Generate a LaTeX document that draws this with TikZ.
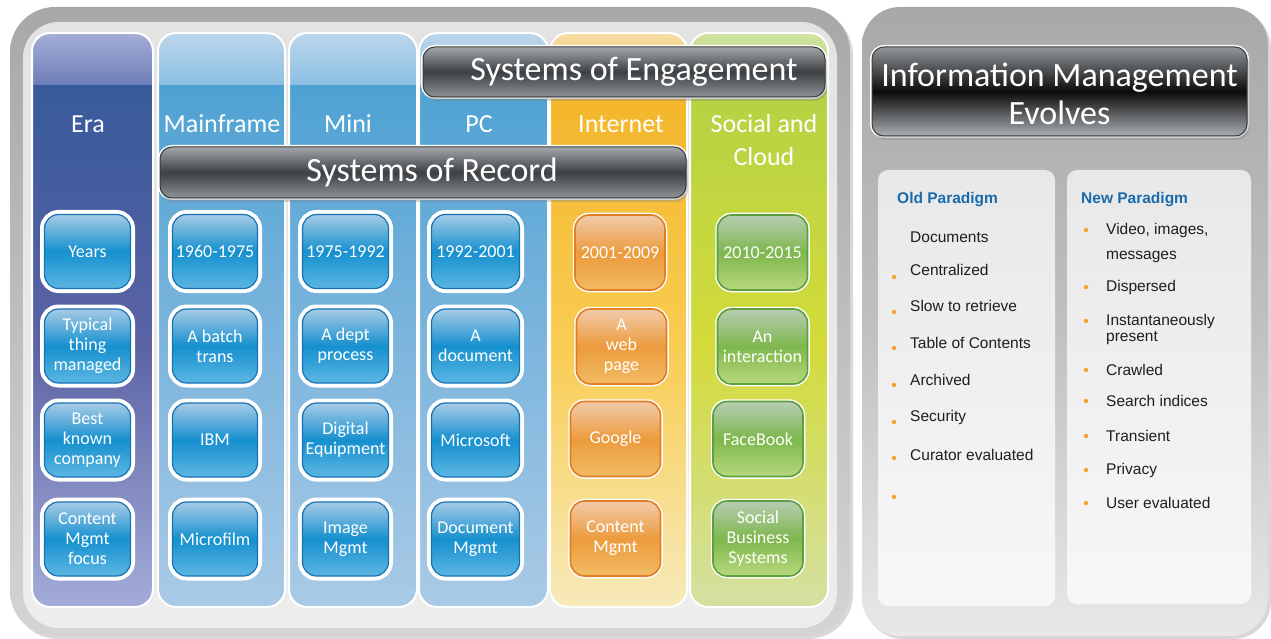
\documentclass[tikz,border=0pt]{standalone}
\usepackage{fontspec}
\setmainfont{Carlito}
\newfontfamily\arialfont{Liberation Sans}
\usetikzlibrary{shadows}

% column colours
\definecolor{eraTop}{HTML}{375A9B}
\definecolor{eraMid}{HTML}{5C63A5}
\definecolor{eraBot}{HTML}{A3ACD8}
\definecolor{eraGlossA}{HTML}{A4AED6}
\definecolor{eraGlossB}{HTML}{6D7DB8}
\definecolor{bluTop}{HTML}{4EA2D3}
\definecolor{bluMid}{HTML}{7DB5DD}
\definecolor{bluBot}{HTML}{AACAE6}
\definecolor{bluGlossA}{HTML}{BDD6EB}
\definecolor{bluGlossB}{HTML}{8BBFE3}
\definecolor{netTop}{HTML}{F3B52A}
\definecolor{netMid}{HTML}{F9CC52}
\definecolor{netBot}{HTML}{F7EABA}
\definecolor{netGlossA}{HTML}{F6DDA4}
\definecolor{netGlossB}{HTML}{F3C356}
\definecolor{socTop}{HTML}{B4D244}
\definecolor{socMid}{HTML}{D3DB3A}
\definecolor{socBot}{HTML}{D4E0A2}
\definecolor{socGlossA}{HTML}{CFE3A4}
\definecolor{socGlossB}{HTML}{B9D568}
% cell colours
\definecolor{cellBluTop}{HTML}{A6CBE6}
\definecolor{cellBluMid}{HTML}{1590CF}
\definecolor{cellBluBot}{HTML}{5CB6E2}
\definecolor{cellBluLine}{HTML}{1672B3}
\definecolor{cellNetTop}{HTML}{F1CBAA}
\definecolor{cellNetMid}{HTML}{EC9B3D}
\definecolor{cellNetBot}{HTML}{F1BB62}
\definecolor{cellNetLine}{HTML}{E27D24}
\definecolor{cellSocTop}{HTML}{B7CDB3}
\definecolor{cellSocMid}{HTML}{7DB74C}
\definecolor{cellSocBot}{HTML}{B8D87D}
\definecolor{cellSocLine}{HTML}{5E9F3D}
% banners and panels
\definecolor{bannerTop}{HTML}{A3A7AB}
\definecolor{bannerMid}{HTML}{3C4043}
\definecolor{bannerBot}{HTML}{8E9498}
\definecolor{bannerLine}{HTML}{3A3A3A}
\definecolor{infoTop}{HTML}{92969A}
\definecolor{infoMid}{HTML}{0B0B0B}
\definecolor{infoBot}{HTML}{ABAFB3}
\definecolor{rimTop}{HTML}{A8A8A8}
\definecolor{rimBot}{HTML}{D4D4D4}
\definecolor{paradigmBlue}{HTML}{1B6AA9}
\definecolor{itemText}{HTML}{1E1E1E}
\definecolor{dotOrange}{HTML}{F6A134}

\tikzset{
  colframe/.style={white, line width=2pt, rounded corners=18pt},
  head/.style={text=white, align=center, font=\fontsize{26}{33}\selectfont},
  cell/.style={rounded corners=14pt, minimum width=86pt, minimum height=74pt,
    inner sep=1pt, text=white, align=center, font=\fontsize{18}{20}\selectfont},
  bluecell/.style={cell, top color=cellBluTop, bottom color=cellBluBot,
    middle color=cellBluMid, draw=cellBluLine, line width=1.2pt,
    preaction={draw=white, line width=9pt}},
  netcell/.style={cell, minimum width=90pt, minimum height=75pt,
    top color=cellNetTop, bottom color=cellNetBot, middle color=cellNetMid,
    draw=cellNetLine, line width=1.6pt, preaction={draw=white, line width=4.5pt}},
  soccell/.style={cell, minimum width=90pt, minimum height=75pt,
    top color=cellSocTop, bottom color=cellSocBot, middle color=cellSocMid,
    draw=cellSocLine, line width=1.6pt, preaction={draw=white, line width=4.5pt}},
  banner/.style={rounded corners=12pt, draw=bannerLine, line width=1pt,
    top color=bannerTop, bottom color=bannerBot, middle color=bannerMid,
    preaction={draw=white, line width=4pt},
    drop shadow={shadow xshift=2pt, shadow yshift=-4pt, opacity=0.35}},
  bannertext/.style={text=white, align=center, font=\fontsize{34}{38}\selectfont},
  card/.style={rounded corners=10pt, top color=black!9, bottom color=black!3},
  ptitle/.style={anchor=west, inner sep=0pt, text=paradigmBlue,
    font=\arialfont\bfseries\fontsize{15.5}{18}\selectfont},
  item/.style={anchor=west, inner sep=0pt, text=itemText, align=left,
    font=\arialfont\fontsize{15.5}{18}\selectfont},
  dot/.style={fill=dotOrange}
}

\begin{document}
\begin{tikzpicture}[x=1pt,y=1pt]
  \useasboundingbox[fill=white] (0,0) rectangle (1271,-639);

  % left panel
  \path[drop shadow={shadow xshift=3pt, shadow yshift=-3pt, opacity=0.3},
    top color=rimTop, bottom color=rimBot, rounded corners=45pt] (10,-7) rectangle (850,-636);
  \shade[top color=black!11, bottom color=black!7, rounded corners=36pt] (23,-22) rectangle (837,-628);

  % columns
  \foreach \xa/\xb/\tone in {32/153/era,158/285/blu,289/417/blu,419/548/blu,550/687/net,690/828/soc}{
    \begin{scope}
      \clip[rounded corners=18pt] (\xa,-33) rectangle (\xb,-607);
      \shade[top color=\tone Top, bottom color=\tone Bot, middle color=\tone Mid] (\xa,-85) rectangle (\xb,-607);
      \shade[top color=\tone GlossA, bottom color=\tone GlossB] (\xa,-33) rectangle (\xb,-85);
    \end{scope}
    \draw[colframe] (\xa,-33) rectangle (\xb,-607);
  }

  % column heads
  \node[head] (hera) at (88,-124) {Era};
  \node[head] (hmain) at (222,-124) {Mainframe};
  \node[head] (hmini) at (348,-124) {Mini};
  \node[head] (hpc) at (479,-124) {PC};
  \node[head] (hnet) at (621,-124) {Internet};
  \node[head] (hsoc) at (764,-140.5) {Social and\\Cloud};

  % banners
  \node[banner, minimum width=402pt, minimum height=50pt] (eng) at (624,-72) {};
  \node[bannertext] (engtext) at (634,-72) {Systems of Engagement};
  \node[banner, minimum width=526pt, minimum height=51pt] (rec) at (423,-172.5) {};
  \node[bannertext] (rectext) at (432,-172.5) {Systems of Record};

  % cells
  \node[bluecell] (era1) at (87.5,-251.5) {Years};
  \node[bluecell] (era2) at (87.5,-346) {Typical\\thing\\managed};
  \node[bluecell] (era3) at (87.5,-440) {Best\\known\\company};
  \node[bluecell] (era4) at (87.5,-539) {Content\\Mgmt\\focus};

  \node[bluecell, minimum width=85pt] (main1) at (215,-251.5) {1960-1975};
  \node[bluecell, minimum width=85pt] (main2) at (215,-346) {A batch\\trans};
  \node[bluecell, minimum width=85pt] (main3) at (215,-440) {IBM};
  \node[bluecell, minimum width=85pt] (main4) at (215,-539) {Microfilm};

  \node[bluecell] (mini1) at (345.5,-251.5) {1975-1992};
  \node[bluecell] (mini2) at (345.5,-346) {A dept\\process};
  \node[bluecell] (mini3) at (345.5,-440) {Digital\\Equipment};
  \node[bluecell] (mini4) at (345.5,-539) {Image\\Mgmt};

  \node[bluecell, minimum width=88pt] (pc1) at (475.5,-251.5) {1992-2001};
  \node[bluecell, minimum width=88pt] (pc2) at (475.5,-346) {A\\document};
  \node[bluecell, minimum width=88pt] (pc3) at (475.5,-440) {Microsoft};
  \node[bluecell, minimum width=88pt] (pc4) at (475.5,-539) {Document\\Mgmt};

  \node[netcell] (net1) at (620,-252.5) {2001-2009};
  \node[netcell] (net2) at (621.5,-346.5) {A\\web\\page};
  \node[netcell] (net3) at (615.5,-439) {Google};
  \node[netcell] (net4) at (615.5,-538.5) {Content\\Mgmt};

  \node[soccell] (soc1) at (762.5,-252.5) {2010-2015};
  \node[soccell] (soc2) at (762.5,-346.5) {An\\interaction};
  \node[soccell] (soc3) at (758,-439) {FaceBook};
  \node[soccell] (soc4) at (758,-538.5) {Social\\Business\\Systems};

  % right panel
  \path[drop shadow={shadow xshift=3pt, shadow yshift=-3pt, opacity=0.3},
    top color=black!34, bottom color=black!9, middle color=black!25,
    rounded corners=38pt] (862,-7) rectangle (1268,-636);
  \node[banner, top color=infoTop, bottom color=infoBot, middle color=infoMid,
    minimum width=375pt, minimum height=89pt] (info) at (1059.5,-91.5) {};
  \node[bannertext] (infotext) at (1059.5,-94) {Information Management\\Evolves};

  \shade[card] (878,-170) rectangle (1055,-606);
  \shade[card] (1067,-170) rectangle (1251,-604);

  \node[ptitle] (oldp) at (897,-200) {Old Paradigm};
  \node[item] (old1) at (910,-237) {Documents};
  \node[item] (old2) at (910,-270) {Centralized};
  \node[item] (old3) at (910,-306) {Slow to retrieve};
  \node[item] (old4) at (910,-343) {Table of Contents};
  \node[item] (old5) at (910,-380) {Archived};
  \node[item] (old6) at (910,-417) {Security};
  \node[item] (old7) at (910,-455) {Curator evaluated};
  \foreach \yb in {277,312,348,385,422,458,497}
    \fill[dot] (894,-\yb) circle (2.2);

  \node[ptitle] (newp) at (1081,-200) {New Paradigm};
  \node[item, font=\arialfont\fontsize{15.5}{25}\selectfont] (new1) at (1106,-242.5) {Video, images,\\messages};
  \node[item] (new2) at (1106,-287) {Dispersed};
  \node[item, font=\arialfont\fontsize{15.5}{16}\selectfont] (new3) at (1106,-329) {Instantaneously\\present};
  \node[item] (new4) at (1106,-370) {Crawled};
  \node[item] (new5) at (1106,-401) {Search indices};
  \node[item] (new6) at (1106,-436) {Transient};
  \node[item] (new7) at (1106,-470) {Privacy};
  \node[item] (new8) at (1106,-503) {User evaluated};
  \foreach \yb in {230,287,321,370,401,436,470,503}
    \fill[dot] (1086,-\yb) circle (2.2);
\end{tikzpicture}
\end{document}
